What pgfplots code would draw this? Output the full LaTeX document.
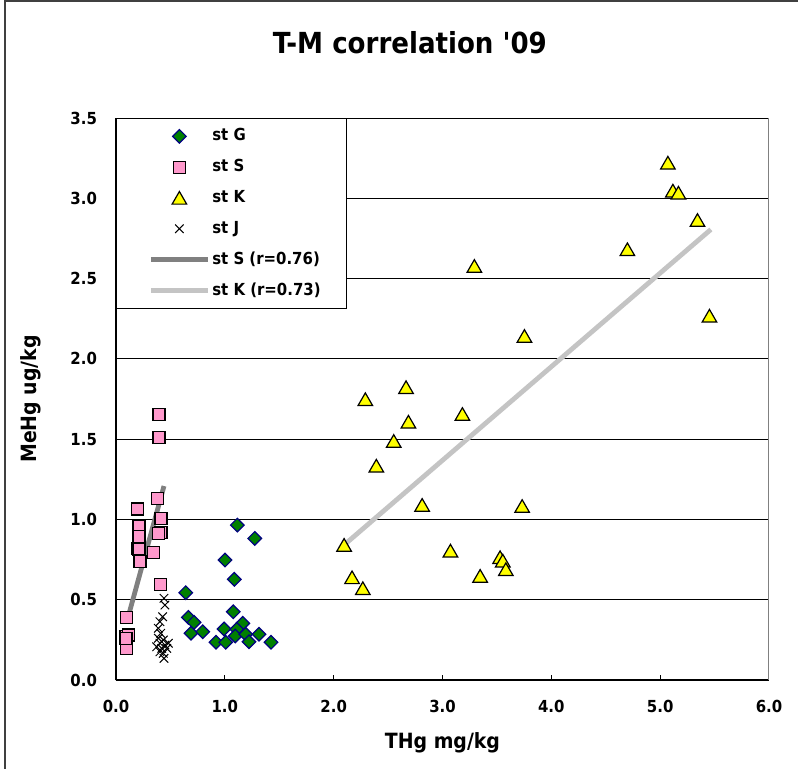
\documentclass[border=0pt]{standalone}
\usepackage{fontspec}
\setmainfont{DejaVu Sans Condensed}
\usepackage{pgfplots}
\pgfplotsset{compat=1.18}

\definecolor{stG}{RGB}{0,128,0}
\definecolor{stGedge}{RGB}{0,0,128}
\definecolor{stS}{RGB}{255,153,204}
\definecolor{stK}{RGB}{255,255,0}
\definecolor{trS}{RGB}{128,128,128}
\definecolor{trK}{RGB}{196,196,196}

\begin{document}
\begin{tikzpicture}
\begin{axis}[
    at={(0,0)}, anchor=south west,
    scale only axis, width=326.5pt, height=281pt,
    xmin=0, xmax=6, ymin=0, ymax=3.5,
    xtick={0,1,2,3,4,5,6},
    ytick={0,0.5,1,1.5,2,2.5,3,3.5},
    /pgf/number format/fixed,
    /pgf/number format/fixed zerofill,
    /pgf/number format/precision=1,
    /pgf/number format/assume math mode=true,
    axis x line*=bottom, axis y line*=left,
    axis line style={-, black, line width=1pt},
    ymajorgrids, major grid style={black, line width=0.5pt},
    tick align=inside, major tick length=2.5pt,
    tick style={black, line width=0.5pt},
    tick label style={font=\bfseries\fontsize{8.3}{10}\selectfont},
    xticklabel style={yshift=-6.5pt},
    yticklabel style={xshift=-6pt},
    title={T-M correlation \textquotesingle 09},
    title style={font=\bfseries\fontsize{14.5}{17}\selectfont,
        at={(axis description cs:0.45,1.113)}, anchor=center},
    xlabel={THg mg/kg}, ylabel={MeHg ug/kg},
    label style={font=\bfseries\fontsize{10.5}{12}\selectfont},
    xlabel style={at={(axis description cs:0.5,-0.121)}, anchor=base},
    ylabel style={at={(axis description cs:-0.122,0.5)}, anchor=base},
    legend cell align=left,
    legend image code/.code={
        \path (0pt,0pt);
        \draw[mark repeat=2, mark phase=2, #1]
            plot coordinates {(4pt,0pt) (18.25pt,0pt) (32.5pt,0pt)};},
    legend style={at={(0,1)}, anchor=north west, draw=black, line width=0.5pt,
        font=\bfseries\fontsize{8.3}{10}\selectfont,
        inner xsep=12pt, inner ysep=1.2pt, row sep=0pt,
        nodes={inner xsep=1pt, inner ysep=0pt, minimum height=15.4pt}},
]
% st G
\addplot[only marks, mark=square*, mark size=2.4pt,
    mark options={rotate=45, fill=stG, draw=stGedge, line width=0.6pt}]
coordinates {
(1.115,0.965) (1.275,0.882) (1.002,0.747) (1.087,0.627) (0.641,0.544)
(1.078,0.425) (0.665,0.390) (0.717,0.359) (0.689,0.291) (0.797,0.301)
(0.993,0.318) (1.165,0.353) (1.109,0.316) (0.919,0.235) (1.008,0.235)
(1.096,0.274) (1.192,0.285) (1.222,0.238) (1.314,0.285) (1.425,0.235)
};
\addlegendentry{st G}
% st S
\addplot[only marks, mark=square*, mark size=3pt,
    mark options={fill=stS, draw=black, line width=0.6pt}]
coordinates {
(0.395,1.654) (0.395,1.509) (0.383,1.131) (0.199,1.065) (0.211,0.959)
(0.414,1.007) (0.414,0.920) (0.389,0.913) (0.211,0.892) (0.199,0.820)
(0.211,0.816) (0.343,0.793) (0.221,0.737) (0.411,0.596) (0.098,0.390)
(0.092,0.270) (0.113,0.280) (0.098,0.197) (0.092,0.260)
};
\addlegendentry{st S}
% st K
\addplot[only marks, mark=triangle*, mark size=4.2pt,
    mark options={fill=stK, draw=black, line width=0.6pt, yshift=-1pt}]
coordinates {
(5.071,3.221) (5.117,3.047) (5.168,3.034) (5.343,2.864) (4.699,2.682)
(5.453,2.268) (3.293,2.578) (3.753,2.142) (2.665,1.823) (2.291,1.748)
(2.687,1.608) (3.183,1.656) (2.552,1.488) (2.392,1.334) (2.813,1.090)
(3.732,1.083) (2.096,0.841) (3.073,0.805) (3.529,0.764) (3.554,0.743)
(3.582,0.689) (3.346,0.648) (2.169,0.639) (2.268,0.571)
};
\addlegendentry{st K}
% st J
\addplot[only marks, mark=x, mark size=3pt,
    mark options={draw=black, line width=0.5pt}]
coordinates {
(0.441,0.509) (0.450,0.467) (0.429,0.394) (0.404,0.363) (0.389,0.322)
(0.411,0.291) (0.389,0.260) (0.435,0.249) (0.404,0.229) (0.450,0.218)
(0.420,0.197) (0.466,0.197) (0.435,0.166) (0.404,0.176) (0.481,0.229)
(0.441,0.135) (0.374,0.207)
};
\addlegendentry{st J}
% trend lines
\addplot[trS, line width=2.4pt, no marks] coordinates {(0.104,0.374) (0.441,1.208)};
\addlegendentry{st S (r=0.76)}
\addplot[trK, line width=2.4pt, no marks] coordinates {(2.06,0.82) (5.466,2.806)};
\addlegendentry{st K (r=0.73)}
\draw[gray, line width=0.6pt] (rel axis cs:1,0) -- (rel axis cs:1,1);
\end{axis}
\draw[black!75, line width=1pt] (-55.5pt,-60pt) -- (-55.5pt,339.5pt) -- (360pt,339.5pt);
\pgfresetboundingbox
\path (-58pt,-44pt) rectangle (341pt,340pt);
\end{tikzpicture}
\end{document}
